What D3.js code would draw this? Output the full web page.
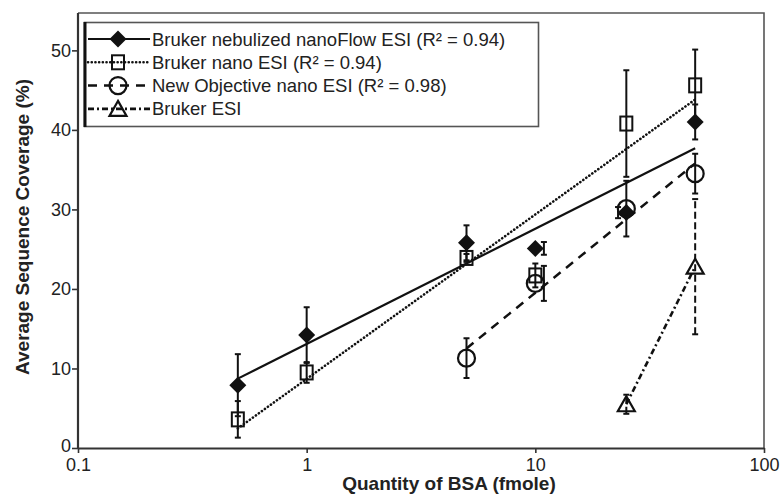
<!DOCTYPE html>
<html>
<head>
<meta charset="utf-8">
<script src="https://cdn.jsdelivr.net/npm/d3@7"></script>
<style>
  body { margin: 0; background: #fff; }
  svg { font-family: "Liberation Sans", Arial, sans-serif; }
</style>
</head>
<body>
<svg id="chart" width="783" height="496"></svg>
<script>
// Values (x in fmole, y in % coverage)
var nebX = [0.5, 1, 5, 10, 25, 50];
var nebY = [7.9, 14.2, 25.8, 25.1, 29.6, 41.0];
var nebErr = [3.9, 3.5, 2.2, 0.8, 0.7, 2.2];
var nebErrX = [0.5, 1, 5, 10.9, 23, 50];

var nanoX = [0.5, 1, 5, 10, 25, 50];
var nanoY = [3.6, 9.5, 23.9, 21.7, 40.8, 45.6];
var nanoErr = [2.3, 1.3, 0.5, 1.5, 6.7, 4.5];

var newObjX = [5, 10, 25, 50];
var newObjY = [11.3, 20.7, 30.1, 34.5];
var newObjErr = [2.5, 2.2, 3.5, 2.5];
var newObjErrX = [5, 10.9, 25, 50];

var esiX = [25, 50];
var esiY = [5.5, 22.8];
var esiErr = [1.2, 8.5];

var xTicks = [0.1, 1, 10, 100];
var yTicks = [0, 10, 20, 30, 40, 50];

var legendLabels = [
  'Bruker nebulized nanoFlow ESI (R\u00b2 = 0.94)',
  'Bruker nano ESI (R\u00b2 = 0.94)',
  'New Objective nano ESI (R\u00b2 = 0.98)',
  'Bruker ESI'
];

(function () {
  'use strict';
  var svg = d3.select('#chart');
  var left = 78, right = 764, top = 13, bottom = 448;

  var x = d3.scaleLog().domain([0.1, 100]).range([left, right]);
  var y = d3.scaleLinear().domain([0, 54.7]).range([bottom, top]);

  // Least squares fit of y on log10(x), used for the trend lines
  function logFit(xs, ys) {
    var lx = xs.map(function (v) { return Math.log10(v); });
    var mx = d3.mean(lx), my = d3.mean(ys);
    var sxy = d3.sum(lx, function (v, i) { return (v - mx) * (ys[i] - my); });
    var sxx = d3.sum(lx, function (v) { return (v - mx) * (v - mx); });
    var b = sxx ? sxy / sxx : 0;
    return function (v) { return my + b * (Math.log10(v) - mx); };
  }

  function zip(xs, ys, es, ex) {
    return xs.map(function (v, i) {
      return { x: v, y: ys[i], e: es ? es[i] : 0, ex: ex ? ex[i] : v };
    });
  }

  var DOTS = '0.1,3.6';
  var series = [
    { name: legendLabels[0], pts: zip(nebX, nebY, nebErr, nebErrX), dash: null, width: 2.2, marker: 'diamond', errDash: null },
    { name: legendLabels[1], pts: zip(nanoX, nanoY, nanoErr), dash: DOTS, width: 2.6, marker: 'square', errDash: null },
    { name: legendLabels[2], pts: zip(newObjX, newObjY, newObjErr, newObjErrX), dash: '9,7', width: 2.5, marker: 'circle', errDash: null },
    { name: legendLabels[3], pts: zip(esiX, esiY, esiErr), dash: '6,3,2,3', width: 2.6, marker: 'triangle', errDash: '7,3.5' }
  ];

  // Frame (top and right edges)
  svg.append('path')
    .attr('d', 'M' + left + ',' + top + 'H' + right + 'V' + bottom)
    .attr('fill', 'none')
    .attr('stroke', '#555')
    .attr('stroke-width', 1.6);

  // Axes
  var yAxis = svg.append('g')
    .attr('transform', 'translate(' + left + ',0)')
    .call(d3.axisLeft(y).tickValues(yTicks).tickSize(6).tickSizeOuter(0).tickPadding(1));
  var xAxis = svg.append('g')
    .attr('transform', 'translate(0,' + bottom + ')')
    .call(d3.axisBottom(x).tickValues(xTicks).tickSize(5).tickSizeOuter(0).tickPadding(5)
      .tickFormat(function (d) { return String(d); }));

  [yAxis, xAxis].forEach(function (a) {
    a.select('.domain').attr('stroke', '#333').attr('stroke-width', 2.2);
    a.selectAll('.tick line').attr('stroke', '#333').attr('stroke-width', 1.6);
    a.selectAll('.tick text').attr('fill', '#222').style('font-size', '18px')
      .style('font-family', '"Liberation Sans", Arial, sans-serif');
  });
  // y axis runs the full height of the frame
  yAxis.select('.domain').attr('d', 'M0,' + bottom + 'V' + top);
  // lift the "0" label a little so it clears "0.1"
  yAxis.selectAll('.tick').filter(function (d) { return d === 0; })
    .select('text').attr('dy', '0.2em');

  // Axis titles
  svg.append('text')
    .attr('x', (left + right) / 2 + 28)
    .attr('y', 490)
    .attr('text-anchor', 'middle')
    .style('font-size', '19px')
    .style('font-weight', 'bold')
    .attr('fill', '#222')
    .text('Quantity of BSA (fmole)');
  svg.append('text')
    .attr('transform', 'translate(29,' + 227 + ') rotate(-90)')
    .attr('text-anchor', 'middle')
    .style('font-size', '19px')
    .style('font-weight', 'bold')
    .attr('fill', '#222')
    .text('Average Sequence Coverage (%)');

  // Trend lines
  var plot = svg.append('g');
  series.forEach(function (s) {
    var xs = s.pts.map(function (d) { return d.x; }),
        ys = s.pts.map(function (d) { return d.y; });
    var f = logFit(xs, ys);
    var ends = d3.extent(xs);
    var line = d3.line().x(function (d) { return x(d); }).y(function (d) { return y(f(d)); });
    plot.append('path')
      .attr('d', line(ends))
      .attr('fill', 'none')
      .attr('stroke', '#111')
      .attr('stroke-width', s.width)
      .attr('stroke-dasharray', s.dash)
      .attr('stroke-linecap', s.dash === DOTS ? 'round' : 'butt');
  });

  // Error bars
  series.forEach(function (s) {
    var g = plot.append('g');
    s.pts.forEach(function (d) {
      if (!d.e) { return; }
      var cx = x(d.ex), y0 = y(d.y - d.e), y1 = y(d.y + d.e);
      g.append('line')
        .attr('x1', cx).attr('x2', cx).attr('y1', y0).attr('y2', y1)
        .attr('stroke', '#111').attr('stroke-width', 2)
        .attr('stroke-dasharray', s.errDash);
      [y0, y1].forEach(function (yy) {
        g.append('line')
          .attr('x1', cx - 3).attr('x2', cx + 3).attr('y1', yy).attr('y2', yy)
          .attr('stroke', '#111').attr('stroke-width', 2);
      });
    });
  });

  // Markers
  function drawMarker(g, type, cx, cy) {
    if (type === 'diamond') {
      g.append('path')
        .attr('d', 'M' + cx + ',' + (cy - 8.5) + 'L' + (cx + 8.5) + ',' + cy + 'L' + cx + ',' + (cy + 8.5) + 'L' + (cx - 8.5) + ',' + cy + 'Z')
        .attr('fill', '#111');
    } else if (type === 'square') {
      g.append('rect')
        .attr('x', cx - 6).attr('y', cy - 7).attr('width', 12).attr('height', 14)
        .attr('fill', 'none').attr('stroke', '#111').attr('stroke-width', 2);
    } else if (type === 'circle') {
      g.append('circle')
        .attr('cx', cx).attr('cy', cy).attr('r', 8.5)
        .attr('fill', 'none').attr('stroke', '#111').attr('stroke-width', 2.2);
    } else if (type === 'triangle') {
      g.append('path')
        .attr('d', 'M' + cx + ',' + (cy - 8) + 'L' + (cx + 8.5) + ',' + (cy + 7) + 'L' + (cx - 8.5) + ',' + (cy + 7) + 'Z')
        .attr('fill', 'none').attr('stroke', '#111').attr('stroke-width', 2.2);
    }
  }
  series.forEach(function (s) {
    var g = plot.append('g');
    s.pts.forEach(function (d) { drawMarker(g, s.marker, x(d.x), y(d.y)); });
  });

  // Legend
  var legend = svg.append('g');
  legend.append('rect')
    .attr('x', 84.5).attr('y', 22.5).attr('width', 454).attr('height', 104)
    .attr('fill', '#fff').attr('stroke', '#555').attr('stroke-width', 1.6);
  legend.append('line')
    .attr('x1', 85).attr('x2', 85).attr('y1', 22).attr('y2', 127)
    .attr('stroke', '#111').attr('stroke-width', 3);

  series.forEach(function (s, i) {
    var ry = 39 + i * 23.3;
    legend.append('line')
      .attr('x1', 88).attr('x2', 150).attr('y1', ry).attr('y2', ry)
      .attr('stroke', '#111').attr('stroke-width', s.width)
      .attr('stroke-dasharray', s.dash)
      .attr('stroke-linecap', s.dash === DOTS ? 'round' : 'butt');
    drawMarker(legend, s.marker, 118, ry);
    legend.append('text')
      .attr('x', 152).attr('y', ry + 6.5)
      .style('font-size', '18.5px')
      .attr('fill', '#222')
      .text(s.name);
  });
}());
</script>
</body>
</html>
